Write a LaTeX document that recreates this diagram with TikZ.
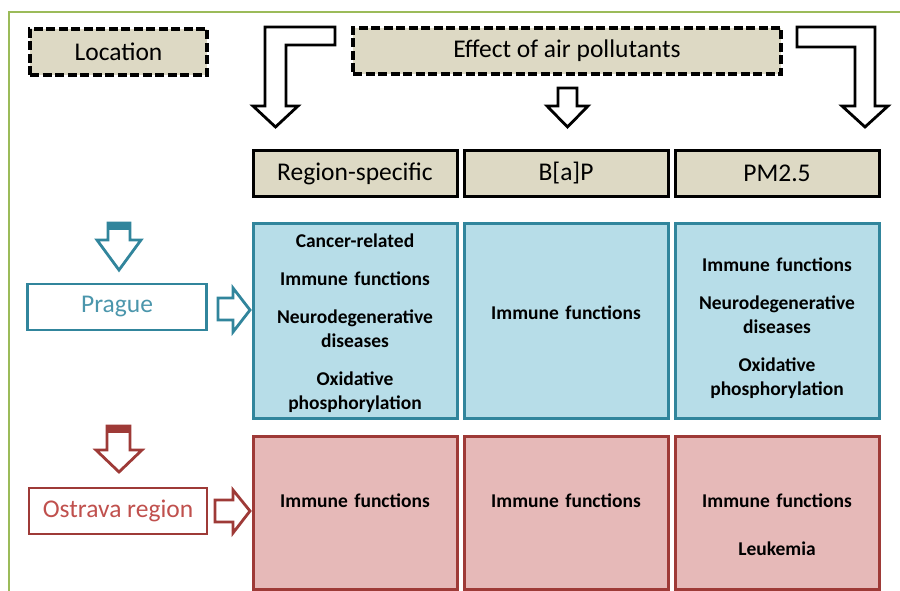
\documentclass[tikz,border=0pt]{standalone}
\usepackage{fontspec}
\setmainfont{Carlito}
\usepackage{xcolor}
\usetikzlibrary{positioning}
\definecolor{tanbg}{RGB}{221,217,196}
\definecolor{bluebg}{RGB}{183,221,232}
\definecolor{blueline}{RGB}{49,133,156}
\definecolor{bluetext}{RGB}{75,150,172}
\definecolor{redbg}{RGB}{230,185,184}
\definecolor{redline}{RGB}{158,58,55}
\definecolor{redtext}{RGB}{192,80,77}
\definecolor{frame}{RGB}{155,187,89}
\newcommand{\hdrfont}{\fontsize{25.5}{30}\selectfont}
\newcommand{\cellfont}{\bfseries\fontsize{19.5}{24}\selectfont}
\tikzstyle{header} = [rectangle, minimum width=204pt, minimum height=46pt, draw=black, line width=3pt, fill=tanbg, font=\hdrfont]
\tikzstyle{dashbox} = [rectangle, minimum height=46pt, draw=black, line width=3.2pt, dash pattern=on 9pt off 3.5pt, fill=tanbg, font=\hdrfont]
\tikzstyle{place} = [rectangle, minimum width=179pt, minimum height=46pt, line width=2.5pt, fill=white, font=\hdrfont]
\tikzstyle{bluecell} = [rectangle, minimum width=204pt, minimum height=195pt, inner sep=0pt, text width=200pt, align=center, draw=blueline, fill=bluebg, line width=3pt, font=\cellfont]
\tikzstyle{redcell} = [rectangle, minimum width=204pt, minimum height=153pt, inner sep=0pt, text width=200pt, align=center, draw=redline, fill=redbg, line width=3pt, font=\cellfont, text height=71pt, text depth=82pt]
\tikzstyle{blockarrow} = [line width=2.8pt, fill=white, line join=miter]

\begin{document}
\begin{tikzpicture}[x=1pt, y=-1pt, node distance=211pt]
        \useasboundingbox (0,0) rectangle (900,591);
        \draw [frame, line width=1.5pt] (9,591) -- (9,12) -- (900,12);

        % Titles
        \node (location) [dashbox, minimum width=177pt] at (118.5,52) {Location};
        \node (effect) [dashbox, minimum width=428pt] at (567,51) {Effect of air pollutants};

        % Pollutant columns
        \node (regspec) [header] at (355,173.5) {Region-specific};
        \node (bap) [header, right of=regspec] {B[a]P};
        \node (pm) [header, right of=bap] {PM2.5};

        % Prague row
        \node (prague) [place, draw=blueline, text=bluetext] at (117,307) {Prague};
        \node (pr1) [bluecell, below of=regspec, yshift=64pt, text height=24.5pt, text depth=170.5pt] {Cancer-related\\[14pt] Immune functions\\[14pt] Neurodegenerative\\ diseases\\[14pt] Oxidative\\ phosphorylation};
        \node (pr2) [bluecell, right of=pr1, text height=96.5pt, text depth=98.5pt] {Immune functions};
        \node (pr3) [bluecell, right of=pr2, text height=48.5pt, text depth=146.5pt] {Immune functions\\[14pt] Neurodegenerative\\ diseases\\[14pt] Oxidative\\ phosphorylation};

        % Ostrava row
        \node (ostrava) [place, draw=redline, text=redtext, minimum width=178pt] at (118,511) {Ostrava region};
        \node (os1) [redcell, below of=pr1, yshift=19pt] {Immune functions};
        \node (os2) [redcell, right of=os1] {Immune functions};
        \node (os3) [redcell, right of=os2] {Immune functions\\[24pt] Leukemia};

        % Arrows from the pollutants
        \draw [blockarrow] (265,27) -- (335,27) -- (335,45) -- (286,45) -- (286,106) -- (298,106) -- (275.5,127) -- (253,106) -- (265,106) -- cycle;
        \draw [blockarrow] (558,88) -- (577,88) -- (577,106) -- (588,106) -- (567.5,127) -- (547,106) -- (558,106) -- cycle;
        \draw [blockarrow] (797,27) -- (875,27) -- (875,106) -- (888,106) -- (865,127) -- (842,106) -- (855,106) -- (855,47) -- (797,47) -- cycle;

        % Arrows of the locations
        \draw [blockarrow, draw=blueline] (108,223) -- (130,223) -- (130,240) -- (141,240) -- (119,270) -- (97,240) -- (108,240) -- cycle;
        \fill [blueline] (108,223) rectangle (130,230);
        \draw [blockarrow, draw=blueline] (218,298) -- (233,298) -- (233,288) -- (250,310) -- (233,332) -- (233,320) -- (218,320) -- cycle;
        \draw [blockarrow, draw=redline] (107,426) -- (130,426) -- (130,450) -- (142,450) -- (119,472) -- (96,450) -- (107,450) -- cycle;
        \fill [redline] (107,426) rectangle (130,433);
        \draw [blockarrow, draw=redline] (215,500) -- (233,500) -- (233,490) -- (250,511) -- (233,533) -- (233,522) -- (215,522) -- cycle;
      \end{tikzpicture}
\end{document}
